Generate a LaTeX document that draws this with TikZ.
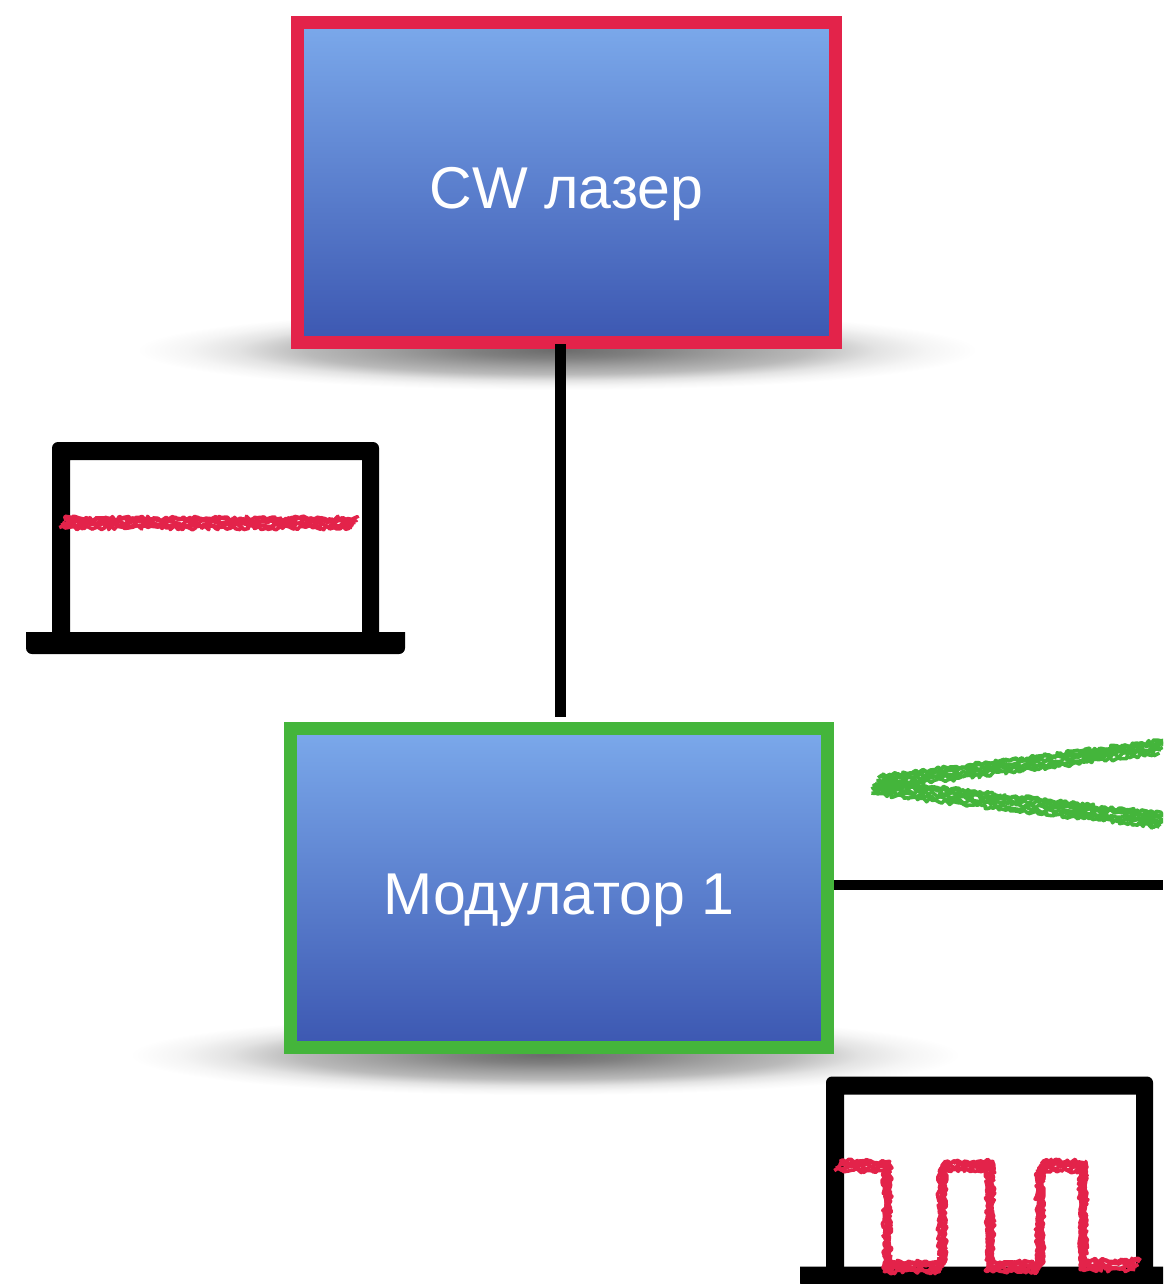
\documentclass[tikz,border=0pt]{standalone}
\usepackage{fontspec}
\setmainfont{Liberation Sans}
\usetikzlibrary{decorations.pathmorphing}
\definecolor{crimsonline}{HTML}{E3234A}
\definecolor{greenline}{HTML}{44B53B}
\definecolor{boxtop}{HTML}{7BA9EB}
\definecolor{boxbottom}{HTML}{3C57B1}
\pgfdeclareradialshading{softshadow}{\pgfpoint{0bp}{0bp}}{%
  color(0bp)=(black!58);color(5bp)=(black!50);color(10bp)=(black!38);color(15bp)=(black!27);color(19bp)=(black!11);color(22bp)=(black!4);color(25bp)=(white);color(50bp)=(white)}
\tikzset{
  x=1pt,y=-1pt,
  devicebox/.style={draw=#1,line width=13pt,top color=boxtop,bottom color=boxbottom,shape=rectangle,inner sep=0pt,outer sep=6.5pt},
  boxlabel/.style={text=white,font=\fontsize{59}{62}\selectfont,inner sep=0pt,outer sep=0pt},
  wire/.style={draw=black,line width=#1},
  softshade/.style={shading=softshadow},
  chalk/.style={draw=#1,decorate,decoration={random steps,segment length=2.4pt,amplitude=2.2pt},line cap=butt,line join=round},
  laptop/.pic={
    \fill[black,even odd rule] [rounded corners=6pt] (52,640) -- (52,442) -- (379,442) -- (379,640) [sharp corners] -- cycle
      (70,460) rectangle (362,640);
    \fill[black] [rounded corners=6pt] (26,654) -- (405,654) [sharp corners] -- (405,632) -- (26,632) [rounded corners=6pt] -- cycle;
  }
}
\newcommand{\chalkstroke}[3]{% colour, offsets, path
  \foreach \off in {#2}{
    \path[chalk=#1,line width=3.6pt,yshift=\off pt,xshift=0.6*\off pt] #3;
  }}
\begin{document}
\begin{tikzpicture}
\pgfmathsetseed{4242}
\useasboundingbox (0,0) rectangle (1163,1284);
\clip (0,0) rectangle (1163,1284);
\fill[white] (0,0) rectangle (1163,1284);

% shadows
\path[softshade] (557,350) ellipse (420 and 40);
\path[softshade] (545,1055) ellipse (415 and 40);

% boxes
\node[devicebox=crimsonline,minimum width=538pt,minimum height=320pt,
  label={[name=lasertext,boxlabel,yshift=-12pt]center:CW лазер}] (laser) at (566.5,182.5) {};
\node[devicebox=greenline,minimum width=537pt,minimum height=319pt,
  label={[name=modtext,boxlabel,yshift=-12pt]center:Модулатор 1}] (mod) at (559,888) {};

% connectors
\coordinate (outend) at (1163,885);
\draw[wire=11pt,shorten <=-5pt,shorten >=5pt] ([xshift=-6pt]laser.south) -- ([xshift=1.5pt]mod.north);
\draw[wire=10pt] ([yshift=3pt]mod.east) -- (outend);

% laptops
\pic (laptopA) at (0,0) {laptop};
\pic (laptopB) at (774,634.5) {laptop};

% chalk traces
\chalkstroke{crimsonline}{-4.6,-2,0.6,3.2,4.6}{(62,523) -- (355,523)}
\chalkstroke{greenline}{-6,-3.2,-0.4,2.4,5.2,6.4}{(875,783) -- (1163,747)}
\chalkstroke{greenline}{-6,-3.2,-0.4,2.4,5.2,6.4}{(875,787) -- (1163,821)}
\chalkstroke{crimsonline}{-4.6,-2,0.6,3.2,4.6}{(837,1166) -- (887,1166) -- (887,1267) -- (942,1267) -- (942,1166) -- (990,1166) -- (990,1267) -- (1040,1267) -- (1040,1166) -- (1083,1166) -- (1083,1265) -- (1138,1265)}
\end{tikzpicture}
\end{document}
